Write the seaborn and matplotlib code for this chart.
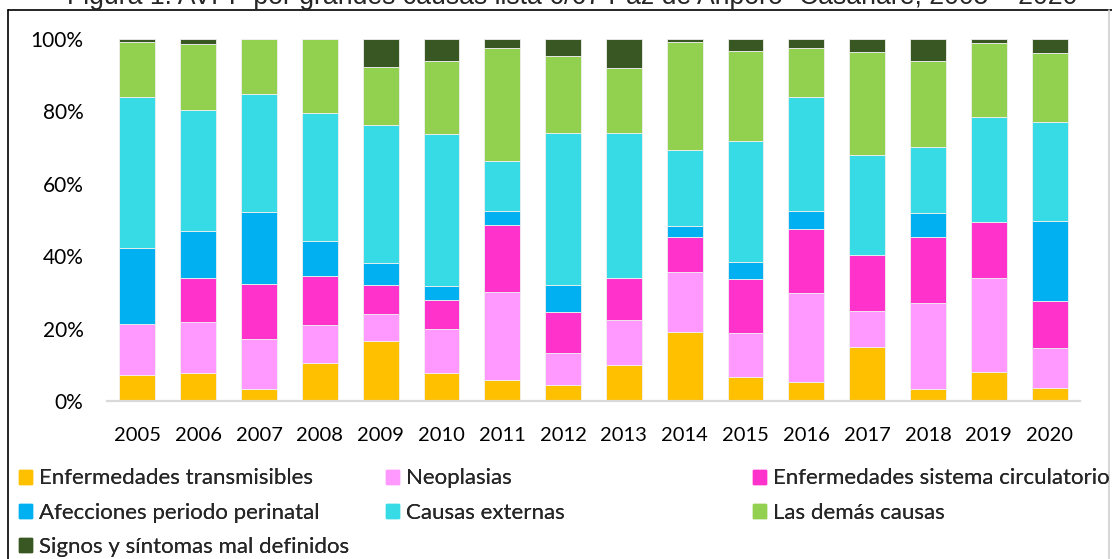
import matplotlib
matplotlib.use("Agg")
import matplotlib.pyplot as plt
import matplotlib.patches as mpatches
from matplotlib.lines import Line2D
import seaborn as sns
import pandas as pd
import numpy as np

years = [str(y) for y in range(2005, 2021)]
causes = ["Enfermedades transmisibles", "Neoplasias", "Enfermedades sistema circulatorio",
          "Afecciones periodo perinatal", "Causas externas", "Las demás causas",
          "Signos y síntomas mal definidos"]
colors = ["#FFC000", "#FF99FF", "#FF33CC", "#00B0F0", "#36DBE6", "#92D050", "#385723"]

transmisibles = [7.3, 7.6, 3.2, 10.6, 16.6, 7.6, 5.8, 4.5, 9.9, 19.1, 6.7, 5.3, 14.9, 3.3, 8.0, 3.6]
neoplasias    = [14.1, 14.2, 13.9, 10.5, 7.4, 12.2, 24.3, 8.7, 12.6, 16.5, 12.2, 24.5, 10.0, 23.9, 26.1, 11.0]
circulatorio  = [0.0, 12.1, 15.1, 13.5, 8.0, 8.2, 18.6, 11.4, 11.5, 9.8, 14.9, 17.8, 15.3, 18.2, 15.4, 13.0]
perinatal     = [20.8, 13.0, 20.1, 9.7, 6.0, 3.8, 3.8, 7.4, 0.0, 2.9, 4.6, 5.0, 0.0, 6.5, 0.0, 22.1]
externas      = [41.7, 33.5, 32.5, 35.2, 38.2, 41.9, 13.7, 42.0, 40.0, 21.1, 33.5, 31.3, 27.8, 18.3, 28.9, 27.5]
demas         = [15.4, 18.1, 15.2, 20.5, 16.1, 20.3, 31.4, 21.4, 18.1, 29.7, 24.7, 13.5, 28.4, 23.8, 20.5, 19.0]
signos        = [0.7, 1.5, 0.0, 0.0, 7.7, 6.0, 2.4, 4.6, 7.9, 0.9, 3.4, 2.6, 3.6, 6.0, 1.1, 3.8]

series = [transmisibles, neoplasias, circulatorio, perinatal, externas, demas, signos]

sns.set_theme(style="white")
plt.rcParams['font.family'] = ['Lato', 'DejaVu Sans']

fig = plt.figure(figsize=(11.12, 5.59), dpi=100)
ax = fig.add_axes([107/1112, 1-401/559, (1080-107)/1112, (401-39)/559])

cum = np.zeros(len(years))
for name, vals, col in zip(causes, series, colors):
    df = pd.DataFrame({"year": years, "val": np.array(vals)/100.0})
    sns.barplot(data=df, x="year", y="val", order=years, color=col, bottom=cum/100.0,
                width=0.59, errorbar=None, ax=ax, label=name, saturation=1,
                edgecolor="#f0f0f0", linewidth=0.6)
    cum = cum + np.array(vals)

ax.set_ylim(0, 1)
ax.set_xlim(-0.5, len(years)-0.5)
ax.set_yticks([0, 0.2, 0.4, 0.6, 0.8, 1.0])
ax.set_yticklabels(["0%", "20%", "40%", "60%", "80%", "100%"])
ax.tick_params(axis='y', length=0, pad=17, labelsize=15, colors="#000000")
ax.tick_params(axis='x', length=0, pad=19, labelsize=14.5, colors="#000000")
ax.set_xlabel("")
ax.set_ylabel("")
for s in ["top", "right", "left"]:
    ax.spines[s].set_visible(False)
ax.spines["bottom"].set_color("#d9d9d9")
ax.spines["bottom"].set_linewidth(1.6)
if ax.get_legend():
    ax.get_legend().remove()

# Legend (manual columns)
handles = [mpatches.Patch(color=c, label=n) for n, c in zip(causes, colors)]
cols = [[0, 3, 6], [1, 4], [2, 5]]
xs = [19, 386, 753]
for idxs, x0 in zip(cols, xs):
    leg = fig.legend([handles[i] for i in idxs], [causes[i] for i in idxs],
                     loc="upper left", bbox_to_anchor=(x0/1112, 1-468.5/559),
                     frameon=False, fontsize=16, handlelength=0.59, handleheight=0.59,
                     handletextpad=0.32, labelspacing=0.64, borderaxespad=0, borderpad=0)
    fig.add_artist(leg)

# Title (clipped at the top as in the reference)
fig.text(0.515, 1-4/559, "Figura 1. AVPP por grandes causas lista 6/67 Paz de Ariporo- Casanare, 2005 – 2020",
         ha="center", va="baseline", fontsize=19.2, family=["Liberation Sans", "DejaVu Sans"])

# Frame lines
fig.add_artist(Line2D([8/1112, 1.0], [1-9.5/559, 1-9.5/559], color="black", linewidth=1.2))
fig.add_artist(Line2D([8/1112, 8/1112], [0, 1-9.5/559], color="black", linewidth=1.2))
fig.add_artist(Line2D([1109/1112, 1109/1112], [0, 1-10/559], color="#d0d0d0", linewidth=1.2))

fig.savefig("out.png", dpi=100)
